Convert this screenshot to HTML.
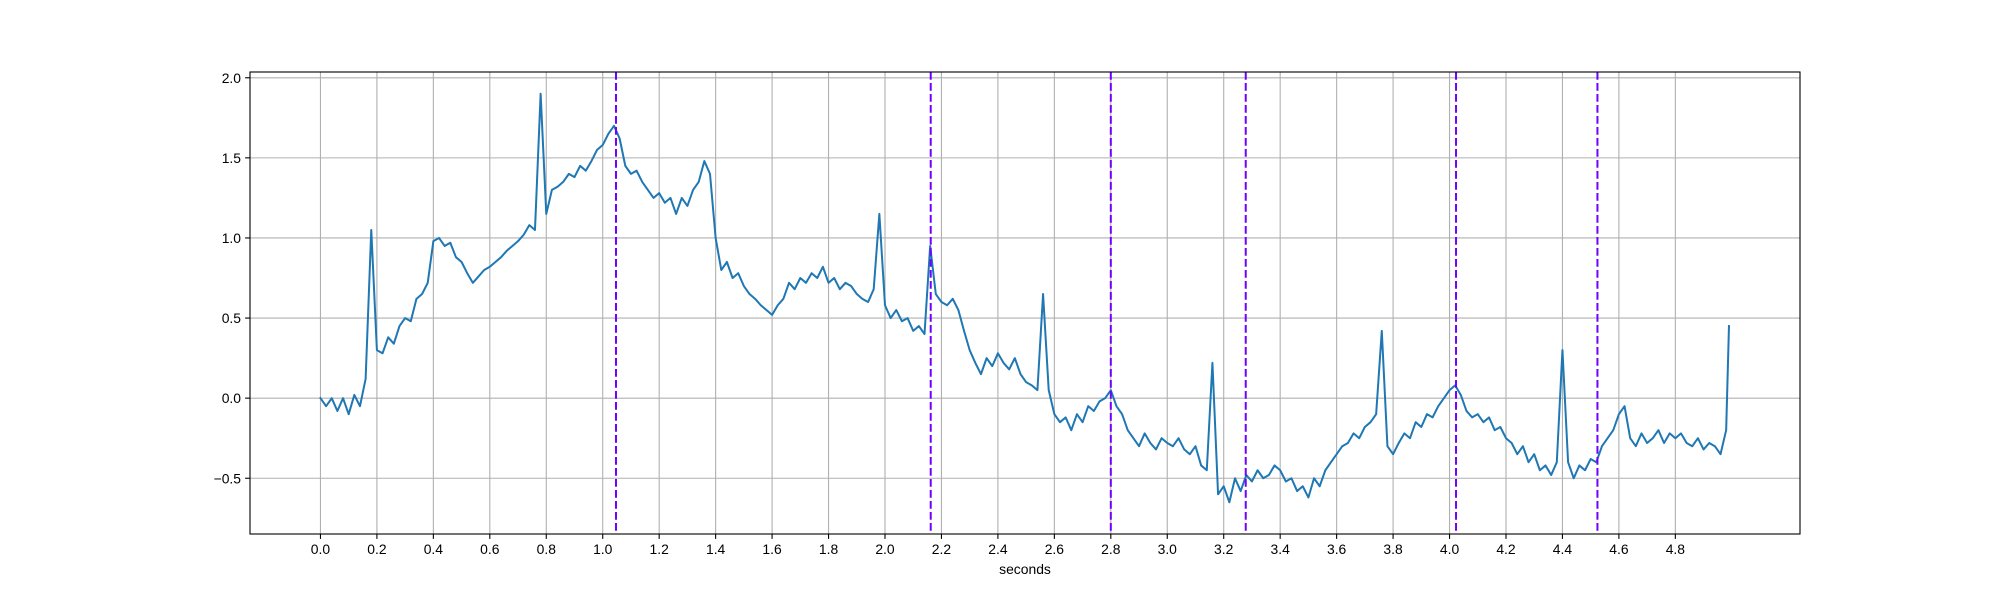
<!DOCTYPE html>
<html><head><meta charset="utf-8"><style>
html,body{margin:0;padding:0;background:#fff;}
svg text{font-family:"Liberation Sans","DejaVu Sans",sans-serif;font-size:13.9px;fill:#000;}
</style></head><body>
<svg id="chart" width="2000" height="600" viewBox="0 0 2000 600" xmlns="http://www.w3.org/2000/svg">
<rect x="0" y="0" width="2000" height="600" fill="#fff"/>
<g id="grid"></g>
<g id="marks"></g>
<g id="axes"></g>
<text x="1025" y="574" text-anchor="middle">seconds</text>
</svg>
<script>
const sampleStep = 0.02;
const values = [
0,-0.05,0.0,-0.08,0.0,-0.1,0.02,-0.05,0.12,1.05,
0.30,0.28,0.38,0.34,0.45,0.50,0.48,0.62,0.65,0.72,
0.98,1.0,0.95,0.97,0.88,0.85,0.78,0.72,0.76,0.80,
0.82,0.85,0.88,0.92,0.95,0.98,1.02,1.08,1.05,1.90,
1.15,1.30,1.32,1.35,1.40,1.38,1.45,1.42,1.48,1.55,
1.58,1.65,1.70,1.62,1.45,1.40,1.42,1.35,1.30,1.25,
1.28,1.22,1.25,1.15,1.25,1.20,1.30,1.35,1.48,1.40,
1.00,0.80,0.85,0.75,0.78,0.70,0.65,0.62,0.58,0.55,
0.52,0.58,0.62,0.72,0.68,0.75,0.72,0.78,0.75,0.82,
0.72,0.75,0.68,0.72,0.70,0.65,0.62,0.60,0.68,1.15,
0.58,0.50,0.55,0.48,0.50,0.42,0.45,0.40,0.95,0.65,
0.60,0.58,0.62,0.55,0.42,0.30,0.22,0.15,0.25,0.20,
0.28,0.22,0.18,0.25,0.15,0.10,0.08,0.05,0.65,0.05,
-0.10,-0.15,-0.12,-0.20,-0.10,-0.15,-0.05,-0.08,-0.02,0.00,
0.05,-0.05,-0.10,-0.20,-0.25,-0.30,-0.22,-0.28,-0.32,-0.25,
-0.28,-0.30,-0.25,-0.32,-0.35,-0.30,-0.42,-0.45,0.22,-0.60,
-0.55,-0.65,-0.50,-0.58,-0.48,-0.52,-0.45,-0.50,-0.48,-0.42,
-0.45,-0.52,-0.50,-0.58,-0.55,-0.62,-0.50,-0.55,-0.45,-0.40,
-0.35,-0.30,-0.28,-0.22,-0.25,-0.18,-0.15,-0.10,0.42,-0.30,
-0.35,-0.28,-0.22,-0.25,-0.15,-0.18,-0.10,-0.12,-0.05,0.00,
0.05,0.08,0.02,-0.08,-0.12,-0.10,-0.15,-0.12,-0.20,-0.18,
-0.25,-0.28,-0.35,-0.30,-0.40,-0.35,-0.45,-0.42,-0.48,-0.40,
0.30,-0.40,-0.50,-0.42,-0.45,-0.38,-0.40,-0.30,-0.25,-0.20,
-0.10,-0.05,-0.25,-0.30,-0.22,-0.28,-0.25,-0.20,-0.28,-0.22,
-0.25,-0.22,-0.28,-0.30,-0.25,-0.32,-0.28,-0.30,-0.35,-0.20,
0.45];
const markers = [1.047,2.162,2.80,3.278,4.023,4.524];
const xTicks = [0.0,0.2,0.4,0.6,0.8,1.0,1.2,1.4,1.6,1.8,2.0,2.2,2.4,2.6,2.8,3.0,3.2,3.4,3.6,3.8,4.0,4.2,4.4,4.6,4.8];
const yTicks = [-0.5,0.0,0.5,1.0,1.5,2.0];

const L=250,R=1800,T=72,B=534;
const xMin=-0.2496,xMax=5.2416,yMin=-0.848,yMax=2.036;
const sx=v=>L+(v-xMin)/(xMax-xMin)*(R-L);
const sy=v=>B-(v-yMin)/(yMax-yMin)*(B-T);
const NS="http://www.w3.org/2000/svg";
function mk(tag,attrs,parent){const e=document.createElementNS(NS,tag);for(const k in attrs)e.setAttribute(k,attrs[k]);parent.appendChild(e);return e;}
const grid=document.getElementById('grid'),marks=document.getElementById('marks'),axes=document.getElementById('axes');
xTicks.forEach(t=>{
  const g=mk('line',{x1:sx(t),x2:sx(t),y1:T,y2:B,stroke:'#b0b0b0','stroke-width':1.1},grid);
  
  
  const tk=mk('line',{x1:sx(t),x2:sx(t),y1:B,y2:B+4.9,stroke:'#000','stroke-width':1.1},axes);
  
  
  const tx=mk('text',{x:sx(t),y:B+20,'text-anchor':'middle'},axes);
  tx.textContent=t.toFixed(1);
  
  
});
yTicks.forEach(t=>{
  const g=mk('line',{x1:L,x2:R,y1:sy(t),y2:sy(t),stroke:'#b0b0b0','stroke-width':1.1},grid);
  
  
  const tk=mk('line',{x1:L-4.9,x2:L,y1:sy(t),y2:sy(t),stroke:'#000','stroke-width':1.1},axes);
  
  
  const tx=mk('text',{x:L-9,y:sy(t)+5,'text-anchor':'end'},axes);
  tx.textContent=t.toFixed(1).replace('-','\u2212');
  
  
});
let d='';
values.forEach((v,i)=>{const t=Math.min(i*sampleStep,4.99);d+=(i?'L':'M')+sx(t).toFixed(2)+','+sy(v).toFixed(2);});
const line=mk('path',{d:d,fill:'none',stroke:'#1f77b4','stroke-width':2,'stroke-linejoin':'round','stroke-linecap':'square'},marks);


markers.forEach(m=>{
  const v=mk('line',{x1:sx(m),x2:sx(m),y1:T,y2:B,stroke:'#7000ff','stroke-width':2,'stroke-dasharray':'7.7,3.3'},marks);
  
  
});
const frame=mk('rect',{x:L,y:T,width:R-L,height:B-T,fill:'none',stroke:'#000','stroke-width':1.1},axes);


</script>
</body></html>
